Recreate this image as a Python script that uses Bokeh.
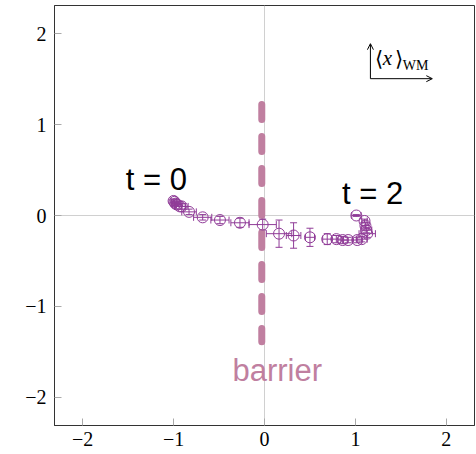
from bokeh.plotting import figure
from bokeh.models import Range1d, FixedTicker, Label, Whisker, ColumnDataSource, Arrow, OpenHead, TeeHead
from bokeh.embed import file_html
from bokeh.resources import INLINE

# data
x = [-1.00, -0.99, -0.98, -0.96, -0.93, -0.91, -0.83, -0.68, -0.49, -0.27, -0.02,
     0.16, 0.32, 0.50, 0.69, 0.79, 0.86, 0.92, 1.02, 1.07, 1.13, 1.12, 1.11, 1.10, 1.01]
y = [0.16, 0.15, 0.13, 0.12, 0.10, 0.10, 0.04, -0.02, -0.05, -0.08, -0.10,
     -0.20, -0.22, -0.24, -0.26, -0.26, -0.27, -0.27, -0.27, -0.26, -0.20, -0.16, -0.11, -0.06, 0.00]
xerr = [0.03, 0.03, 0.04, 0.05, 0.06, 0.07, 0.08, 0.10, 0.10, 0.10, 0.15,
        0.14, 0.08, 0.05, 0.05, 0.05, 0.05, 0.05, 0.05, 0.06, 0.09, 0.06, 0.04, 0.03, 0.05]
yerr = [0.02, 0.02, 0.02, 0.02, 0.03, 0.03, 0.03, 0.03, 0.04, 0.05, 0.06,
        0.15, 0.14, 0.10, 0.06, 0.04, 0.04, 0.03, 0.03, 0.03, 0.04, 0.03, 0.03, 0.02, 0.01]
barrier_x = [-0.03, -0.03]
barrier_y = [1.22, -1.39]
ticks = [-2, -1, 0, 1, 2]
tick_labels = {-2: "\u22122", -1: "\u22121", 0: "0", 1: "1", 2: "2"}

PURPLE = "#903c98"
ROSE = "#c07fa0"

src = ColumnDataSource(dict(
    x=x, y=y,
    xl=[a - e for a, e in zip(x, xerr)], xu=[a + e for a, e in zip(x, xerr)],
    yl=[a - e for a, e in zip(y, yerr)], yu=[a + e for a, e in zip(y, yerr)],
))

p = figure(width=476, height=454, output_backend="svg", toolbar_location=None,
           x_range=Range1d(-2.31, 2.31), y_range=Range1d(-2.31, 2.31),
           min_border_left=54, min_border_right=2, min_border_top=5, min_border_bottom=29)
p.background_fill_color = "white"
p.border_fill_color = "white"
p.outline_line_color = "#333333"
p.outline_line_width = 1

for ax in (p.xaxis[0], p.yaxis[0]):
    ax.ticker = FixedTicker(ticks=ticks)
    ax.major_label_overrides = tick_labels
    ax.major_label_text_font = "Liberation Serif"
    ax.major_label_text_font_size = "20px"
    ax.major_label_text_color = "black"
    ax.major_tick_in = 7
    ax.major_tick_out = 0
    ax.major_tick_line_color = "#aaaaaa"
    ax.minor_tick_line_color = None
    ax.axis_line_color = "#333333"
p.xaxis.major_label_standoff = 6
p.yaxis.major_label_standoff = 8

p.xgrid.ticker = FixedTicker(ticks=[0])
p.ygrid.ticker = FixedTicker(ticks=[0])
p.xgrid.grid_line_color = "#d0d0d0"
p.ygrid.grid_line_color = "#d0d0d0"

# barrier
p.line(barrier_x, barrier_y, line_color=ROSE, line_width=7, line_dash="15 17", line_cap="round")

# error bars
p.add_layout(Whisker(source=src, base="y", lower="xl", upper="xu", dimension="width",
                     line_color=PURPLE, line_width=1,
                     lower_head=TeeHead(size=7, line_color=PURPLE), upper_head=TeeHead(size=7, line_color=PURPLE)))
p.add_layout(Whisker(source=src, base="x", lower="yl", upper="yu", dimension="height",
                     line_color=PURPLE, line_width=1,
                     lower_head=TeeHead(size=7, line_color=PURPLE), upper_head=TeeHead(size=7, line_color=PURPLE)))
p.scatter("x", "y", source=src, marker="circle", size=11, fill_color=None,
          line_color=PURPLE, line_width=1)

# text labels
def lab(xx, yy, t, size, color="black", font="Liberation Sans", style="normal", align="center"):
    p.add_layout(Label(x=xx, y=yy, text=t, text_font=font, text_font_size=size,
                       text_color=color, text_align=align, text_baseline="middle",
                       text_font_style=style))

lab(-1.19, 0.40, "t = 0", "31px")
lab(1.19, 0.24, "t = 2", "31px")
lab(0.14, -1.70, "barrier", "31px", color=ROSE)

# axis legend arrows
p.add_layout(Arrow(x_start=1.165, y_start=1.505, x_end=1.165, y_end=1.89,
                   line_color="black", line_width=1, end=OpenHead(size=6, line_width=1)))
p.add_layout(Arrow(x_start=1.165, y_start=1.505, x_end=1.846, y_end=1.505,
                   line_color="black", line_width=1, end=OpenHead(size=6, line_width=1)))
lab(1.21, 1.725, "\u27e8", "21px", font="Liberation Serif", align="left")
lab(1.30, 1.735, "x", "21px", font="Liberation Serif", style="italic", align="left")
lab(1.44, 1.725, "\u27e9", "21px", font="Liberation Serif", align="left")
lab(1.52, 1.655, "WM", "14px", font="Liberation Serif", align="left")

open("out.html", "w").write(file_html(p, INLINE))
